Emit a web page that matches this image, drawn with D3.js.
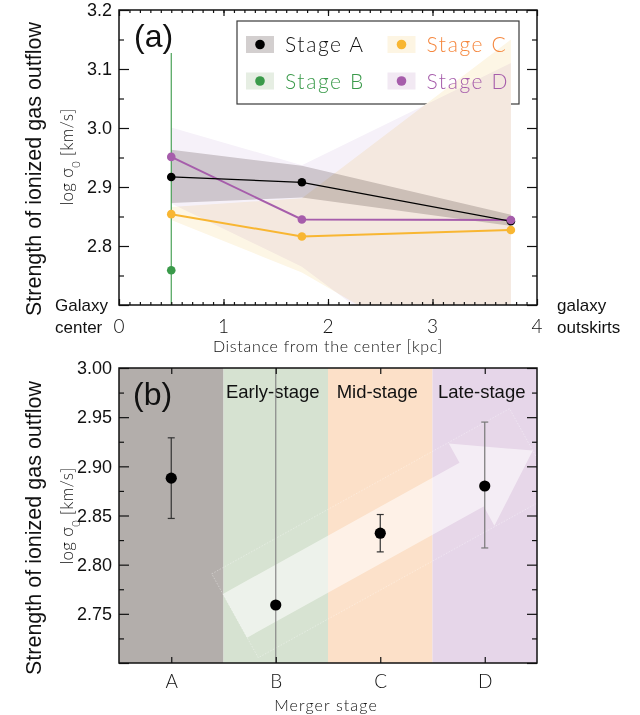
<!DOCTYPE html>
<html>
<head>
<meta charset="utf-8">
<script src="https://cdn.jsdelivr.net/npm/d3@7"></script>
<style>
  html, body { margin: 0; padding: 0; background: #fff; }
  svg { display: block; }
  .sans { font-family: "Liberation Sans", Arial, sans-serif; fill: #111; }
  .thin { font-family: "Lato", "Inter", "Noto Sans", sans-serif; font-weight: 300; }
</style>
</head>
<body>
<svg id="fig" width="640" height="715"></svg>
<script>
// ---------- panel (a): radial profiles ----------
const radii = [0.5, 1.75, 3.75];                 // kpc
const sigmaA = [2.917, 2.908, 2.842];
const sigmaB = [2.759];
const radiiB = [0.5];
const sigmaBHi = [3.127];
const sigmaBLo = [2.40];
const sigmaC = [2.854, 2.816, 2.827];
const sigmaD = [2.951, 2.845, 2.844];

// uncertainty envelopes (lower / upper)
const bandALo = [2.873, 2.882, 2.834];
const bandAHi = [2.963, 2.936, 2.853];
const bandCLo = [2.844, 2.755, 2.55];
const bandCHi = [2.866, 2.881, 3.15];
const bandDLo = [2.872, 2.765, 2.50];
const bandDHi = [3.001, 2.937, 3.11];

const xTicksA = [0, 1, 2, 3, 4];
const yTicksA = [2.8, 2.9, 3.0, 3.1, 3.2];

// ---------- panel (b): merger stages ----------
const stages = ["A", "B", "C", "D"];
const stageX = [0.5, 1.5, 2.5, 3.5];
const stageMean = [2.888, 2.759, 2.832, 2.880];
const stageLo = [2.847, 2.40, 2.813, 2.817];
const stageHi = [2.929, 3.30, 2.851, 2.945];
const phaseNames = ["", "Early-stage", "Mid-stage", "Late-stage"];
const yTicksB = [2.75, 2.80, 2.85, 2.90, 2.95, 3.00];

const svg = d3.select("#fig");

// ---------- scales ----------
const x = d3.scaleLinear().domain([0, 4]).range([119, 537]);
const yA = d3.scaleLinear().domain([2.7, 3.2]).range([305, 10]);
const yB = d3.scaleLinear().domain([2.7, 3.0]).range([663, 368]);

const colA = "#000000", colB = "#3a9a4a", colC = "#f8b632", colD = "#a65dab";
const txtC = "#f5873e", txtD = "#a65dab";

// clip paths
const defs = svg.append("defs");
defs.append("clipPath").attr("id", "clipA").append("rect")
  .attr("x", 119).attr("y", 10).attr("width", 418).attr("height", 295);
defs.append("clipPath").attr("id", "clipB").append("rect")
  .attr("x", 119).attr("y", 368).attr("width", 418).attr("height", 295);

function seq(a, b, step) {
  const out = [];
  for (let v = a; v <= b + 1e-9; v += step) out.push(+v.toFixed(4));
  return out;
}

function frameAxes(g, y, major, minor, fmt, labelled) {
  // left axis with labels, inward ticks
  const left = d3.axisLeft(y).tickValues(major).tickSize(-10).tickPadding(7)
    .tickFormat(d => labelled.includes(d) ? fmt(d) : "");
  g.append("g").attr("transform", "translate(119,0)").call(left)
    .call(s => s.select(".domain").remove())
    .call(s => s.selectAll("text").attr("class", "sans").style("font-size", "18px").attr("fill", "#111"));
  g.append("g").attr("transform", "translate(119,0)")
    .call(d3.axisLeft(y).tickValues(minor).tickSize(-5).tickFormat(""))
    .call(s => s.select(".domain").remove());
  g.append("g").attr("transform", "translate(537,0)")
    .call(d3.axisRight(y).tickValues(major).tickSize(-10).tickFormat(""))
    .call(s => s.select(".domain").remove());
  g.append("g").attr("transform", "translate(537,0)")
    .call(d3.axisRight(y).tickValues(minor).tickSize(-5).tickFormat(""))
    .call(s => s.select(".domain").remove());
  g.selectAll(".tick line").attr("stroke", "#111").attr("stroke-width", 1.2);
}

// ======================= PANEL (a) =======================
const gA = svg.append("g");

// legend frame (envelopes are laid over it, entries drawn on top)
gA.append("rect").attr("x", 237).attr("y", 21).attr("width", 282).attr("height", 83)
  .attr("fill", "#fff").attr("stroke", "#3a3a3a").attr("stroke-width", 1.2);

// envelopes
const bands = gA.append("g").attr("clip-path", "url(#clipA)");
function band(lo, hi, fill) {
  const area = d3.area().x((d, i) => x(radii[i])).y0((d, i) => yA(lo[i])).y1((d, i) => yA(hi[i]));
  bands.append("path").datum(radii).attr("d", area).attr("fill", fill)
    .style("mix-blend-mode", "multiply");
}
band(bandDLo, bandDHi, "#f6f1f9");
band(bandCLo, bandCHi, "#fdf6e5");
band(bandALo, bandAHi, "#d6d2d2");

// legend entries
const leg = gA.append("g");
const legItems = [
  { name: "Stage A", dot: colA, sw: "#d3cfcf", txt: "#111", cx: 260, cy: 44.5 },
  { name: "Stage B", dot: colB, sw: "#e6eee3", txt: colB, cx: 260, cy: 81 },
  { name: "Stage C", dot: colC, sw: "#fdf5e3", txt: txtC, cx: 401.5, cy: 44.5 },
  { name: "Stage D", dot: colD, sw: "#f2e9f3", txt: txtD, cx: 401.5, cy: 81 }
];
legItems.forEach(it => {
  leg.append("rect").attr("x", it.cx - 14).attr("y", it.cy - 8.5).attr("width", 28).attr("height", 17)
    .attr("fill", it.sw);
  leg.append("circle").attr("cx", it.cx).attr("cy", it.cy).attr("r", 4.8).attr("fill", it.dot);
  leg.append("text").attr("class", "thin").attr("x", it.cx + 25).attr("y", it.cy + 7.5)
    .attr("fill", it.txt).style("font-size", "21px").style("letter-spacing", "1.6px").text(it.name);
});

// stage B error bar
const plotA = gA.append("g").attr("clip-path", "url(#clipA)");
plotA.selectAll("line.errB").data(radiiB).join("line")
  .attr("x1", d => x(d)).attr("x2", d => x(d))
  .attr("y1", (d, i) => yA(sigmaBHi[i])).attr("y2", (d, i) => yA(sigmaBLo[i]))
  .attr("stroke", colB).attr("stroke-width", 1.1);

// profiles
const line = d3.line().x((d, i) => x(radii[i])).y(d => yA(d));
[[sigmaC, colC, 2], [sigmaD, colD, 2], [sigmaA, colA, 1.3]].forEach(([vals, c, w]) => {
  plotA.append("path").datum(vals).attr("d", line).attr("fill", "none")
    .attr("stroke", c).attr("stroke-width", w);
});
[[sigmaA, colA], [sigmaC, colC], [sigmaD, colD]].forEach(([vals, c]) => {
  plotA.selectAll(null).data(vals).join("circle")
    .attr("cx", (d, i) => x(radii[i])).attr("cy", d => yA(d)).attr("r", 4.3).attr("fill", c);
});
plotA.selectAll(null).data(sigmaB).join("circle")
  .attr("cx", (d, i) => x(radiiB[i])).attr("cy", d => yA(d)).attr("r", 4.3).attr("fill", colB);

// axes
frameAxes(gA, yA, seq(2.7, 3.2, 0.1), seq(2.75, 3.15, 0.1), d3.format(".1f"), yTicksA);
gA.append("g").attr("transform", "translate(0,305)")
  .call(d3.axisBottom(x).tickValues(xTicksA).tickSize(-6).tickFormat(""))
  .call(s => s.select(".domain").remove());
gA.append("g").attr("transform", "translate(0,305)")
  .call(d3.axisBottom(x).tickValues(seq(0.1, 3.9, 0.1)).tickSize(-3).tickFormat(""))
  .call(s => s.select(".domain").remove());
gA.append("g").attr("transform", "translate(0,10)")
  .call(d3.axisTop(x).tickValues(xTicksA).tickSize(-6).tickFormat(""))
  .call(s => s.select(".domain").remove());
gA.append("g").attr("transform", "translate(0,10)")
  .call(d3.axisTop(x).tickValues(seq(0.1, 3.9, 0.1)).tickSize(-3).tickFormat(""))
  .call(s => s.select(".domain").remove());
gA.selectAll(".tick line").attr("stroke", "#111").attr("stroke-width", 1.2);
gA.append("rect").attr("x", 119).attr("y", 10).attr("width", 418).attr("height", 295)
  .attr("fill", "none").attr("stroke", "#111").attr("stroke-width", 1.5);

gA.selectAll("text.xt").data(xTicksA).join("text").attr("class", "thin")
  .attr("x", d => x(d)).attr("y", 333).attr("text-anchor", "middle")
  .style("font-size", "19px").attr("fill", "#111").text(d => d);

gA.append("text").attr("class", "sans").attr("x", 55).attr("y", 311).style("font-size", "17px").text("Galaxy");
gA.append("text").attr("class", "sans").attr("x", 55).attr("y", 333).style("font-size", "17px").text("center");
gA.append("text").attr("class", "sans").attr("x", 557).attr("y", 311).style("font-size", "17px").text("galaxy");
gA.append("text").attr("class", "sans").attr("x", 557).attr("y", 333).style("font-size", "17px").text("outskirts");

gA.append("text").attr("class", "thin").attr("x", 328).attr("y", 352).attr("text-anchor", "middle")
  .style("font-size", "16px").style("letter-spacing", "0.7px").attr("fill", "#111")
  .text("Distance from the center [kpc]");

gA.append("text").attr("class", "sans").attr("x", 134).attr("y", 47).style("font-size", "32px").text("(a)");

// y titles
function yTitles(g, cy) {
  g.append("text").attr("class", "sans").attr("transform", `translate(41,${cy + 12}) rotate(-90)`)
    .attr("text-anchor", "middle").style("font-size", "21.5px").text("Strength of ionized gas outflow");
  const t = g.append("text").attr("class", "thin").attr("transform", `translate(73,${cy}) rotate(-90)`)
    .attr("text-anchor", "middle").style("font-size", "17px").style("letter-spacing", "0.3px").attr("fill", "#111");
  t.append("tspan").text("log σ");
  t.append("tspan").attr("baseline-shift", "sub").style("font-size", "11px").text("0");
  t.append("tspan").text(" [km/s]");
}
yTitles(gA, 157);

// ======================= PANEL (b) =======================
const gB = svg.append("g");
const phaseCol = ["#b3aeab", "#d6e2d1", "#fce0c8", "#e6d6e9"];
const bandB = gB.append("g").attr("clip-path", "url(#clipB)");
bandB.selectAll("rect").data(stageX).join("rect")
  .attr("x", d => x(d - 0.5)).attr("y", 368)
  .attr("width", d => x(d + 0.5) - x(d - 0.5)).attr("height", 295)
  .attr("fill", (d, i) => phaseCol[i]);

// evolutionary arrow
(function () {
  const tail = [x(1.11), yB(2.748)];
  const tip = [x(3.96), yB(2.916)];
  const dx = tip[0] - tail[0], dy = tip[1] - tail[1];
  const L = Math.hypot(dx, dy), ux = dx / L, uy = dy / L;
  const px = -uy, py = ux;      // perpendicular
  const shaftW = 25, headW = 47, headL = 70, boxW = 48;
  const P = (a, b) => [tail[0] + ux * a + px * b, tail[1] + uy * a + py * b];
  const pts = [P(0, -shaftW), P(L - headL, -shaftW), P(L - headL, -headW), P(L, 0),
               P(L - headL, headW), P(L - headL, shaftW), P(0, shaftW)];
  const box = [P(0, -boxW), P(L, -boxW), P(L, boxW), P(0, boxW)];
  const ga = gB.append("g").attr("clip-path", "url(#clipB)");
  ga.append("polygon").attr("points", box.map(p => p.join(",")).join(" "))
    .attr("fill", "#fff").attr("fill-opacity", 0.04)
    .attr("stroke", "#fff").attr("stroke-opacity", 0.5).attr("stroke-width", 0.7)
    .attr("stroke-dasharray", "1.5,1.5");
  ga.append("polygon").attr("points", pts.map(p => p.join(",")).join(" "))
    .attr("fill", "#fff").attr("fill-opacity", 0.55);
})();

// phase names
gB.selectAll("text.phase").data(phaseNames).join("text").attr("class", "sans")
  .attr("x", (d, i) => x(stageX[i]) - 3).attr("y", 398).attr("text-anchor", "middle")
  .style("font-size", "18.5px").text(d => d);

// error bars + means
const errCol = ["#333", "#888", "#333", "#777"];
const pB = gB.append("g").attr("clip-path", "url(#clipB)");
stageX.forEach((sx, i) => {
  const cx = x(sx);
  pB.append("line").attr("x1", cx).attr("x2", cx).attr("y1", yB(stageLo[i])).attr("y2", yB(stageHi[i]))
    .attr("stroke", errCol[i]).attr("stroke-width", 1.2);
  [stageLo[i], stageHi[i]].forEach(v => {
    pB.append("line").attr("x1", cx - 3.5).attr("x2", cx + 3.5).attr("y1", yB(v)).attr("y2", yB(v))
      .attr("stroke", errCol[i]).attr("stroke-width", 1.2);
  });
});
pB.selectAll("circle").data(stageMean).join("circle")
  .attr("cx", (d, i) => x(stageX[i])).attr("cy", d => yB(d)).attr("r", 5.6).attr("fill", "#000");

frameAxes(gB, yB, seq(2.7, 3.0, 0.05), seq(2.725, 2.975, 0.05), d3.format(".2f"), yTicksB);
gB.append("g").attr("transform", "translate(0,663)")
  .call(d3.axisBottom(x).tickValues(stageX).tickSize(-6).tickPadding(12)
    .tickFormat((d, i) => stages[i]))
  .call(s => s.select(".domain").remove())
  .call(s => s.selectAll("text").attr("class", "thin").style("font-size", "19px").attr("fill", "#111"));
gB.append("g").attr("transform", "translate(0,368)")
  .call(d3.axisTop(x).tickValues(stageX).tickSize(-6).tickFormat(""))
  .call(s => s.select(".domain").remove());
gB.selectAll(".tick line").attr("stroke", "#111").attr("stroke-width", 1.2);
gB.append("rect").attr("x", 119).attr("y", 368).attr("width", 418).attr("height", 295)
  .attr("fill", "none").attr("stroke", "#111").attr("stroke-width", 1.5);

gB.append("text").attr("class", "sans").attr("x", 133).attr("y", 405).style("font-size", "32px").text("(b)");

gB.append("text").attr("class", "thin").attr("x", 326).attr("y", 711).attr("text-anchor", "middle")
  .style("font-size", "16px").style("letter-spacing", "1.1px").attr("fill", "#111").text("Merger stage");

yTitles(gB, 516);
</script>
</body>
</html>
